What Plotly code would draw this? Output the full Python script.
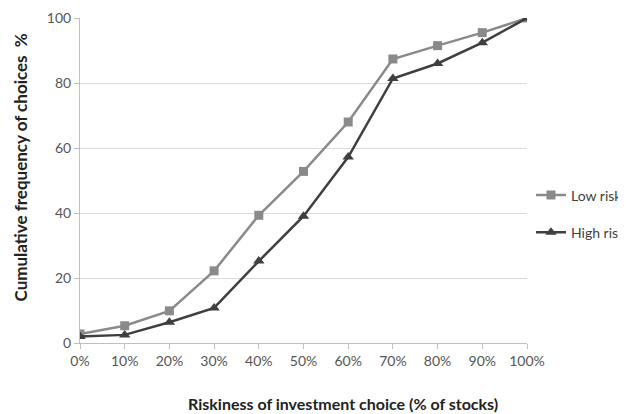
import plotly.graph_objects as go

categories = ["0%", "10%", "20%", "30%", "40%", "50%", "60%", "70%", "80%", "90%", "100%"]
low_risk = [2.8, 5.3, 9.9, 22.2, 39.3, 52.8, 68.0, 87.4, 91.5, 95.5, 100]
high_risk = [2.0, 2.5, 6.4, 10.8, 25.2, 39.0, 57.2, 81.4, 86.0, 92.4, 100]

FONT = "Lato, Open Sans, sans-serif"

# page has an 8px body margin; figure is sized/offset to compensate
OFF = 8
W, H = 618, 406
L, R, T, B = 72, 99, 10, 71
PW, PH = W - L - R, H - T - B


def px_x(page_x):
    return (page_x - OFF - L) / PW


def px_y(page_y):
    return 1 - (page_y - OFF - T) / PH


fig = go.Figure()
fig.add_trace(go.Scatter(x=categories, y=low_risk, name="Low risk", mode="lines+markers",
                         legendgroup="a",
                         line=dict(color="#8a8a8a", width=2.5),
                         marker=dict(symbol="square", size=9, color="#8a8a8a")))
fig.add_trace(go.Scatter(x=categories, y=high_risk, name="High risk", mode="lines+markers",
                         legendgroup="b",
                         line=dict(color="#3f3f3f", width=2.5),
                         marker=dict(symbol="triangle-up", size=10, color="#3f3f3f")))

fig.update_layout(
    width=W, height=H,
    margin=dict(l=L, r=R, t=T, b=B, autoexpand=False),
    paper_bgcolor="white", plot_bgcolor="white",
    font=dict(family=FONT, size=14, color="#555555"),
    showlegend=True,
    legend=dict(xref="container", yref="container", x=(531 - OFF) / W, y=1 - (214 - OFF) / H,
                xanchor="left", yanchor="middle",
                font=dict(size=14, color="#404040"), tracegroupgap=16,
                bgcolor="rgba(0,0,0,0)"),
    xaxis=dict(type="category", range=[0, 10], showgrid=False, automargin=False,
               showline=True, linecolor="#bfbfbf", linewidth=1,
               ticks="outside", ticklen=5, tickcolor="#bfbfbf",
               tickfont=dict(size=14, color="#555555")),
    yaxis=dict(range=[0, 100], tickvals=[0, 20, 40, 60, 80, 100], automargin=False,
               showgrid=True, gridcolor="#d9d9d9", gridwidth=1,
               showline=True, linecolor="#bfbfbf", linewidth=1,
               ticks="outside", ticklen=5, tickcolor="#bfbfbf",
               zeroline=False,
               tickfont=dict(size=14, color="#555555")),
)
fig.add_annotation(text="<b>Riskiness of investment choice (% of stocks)</b>",
                   xref="paper", yref="paper", x=px_x(343), y=px_y(403),
                   xanchor="center", yanchor="middle", showarrow=False,
                   font=dict(size=16, color="#222222", family=FONT))
fig.add_annotation(text="<b>Cumulative frequency of choices  %</b>",
                   xref="paper", yref="paper", x=px_x(20), y=px_y(167.5),
                   xanchor="center", yanchor="middle", showarrow=False, textangle=-90,
                   font=dict(size=17, color="#222222", family=FONT))

fig.write_html("out.html")
